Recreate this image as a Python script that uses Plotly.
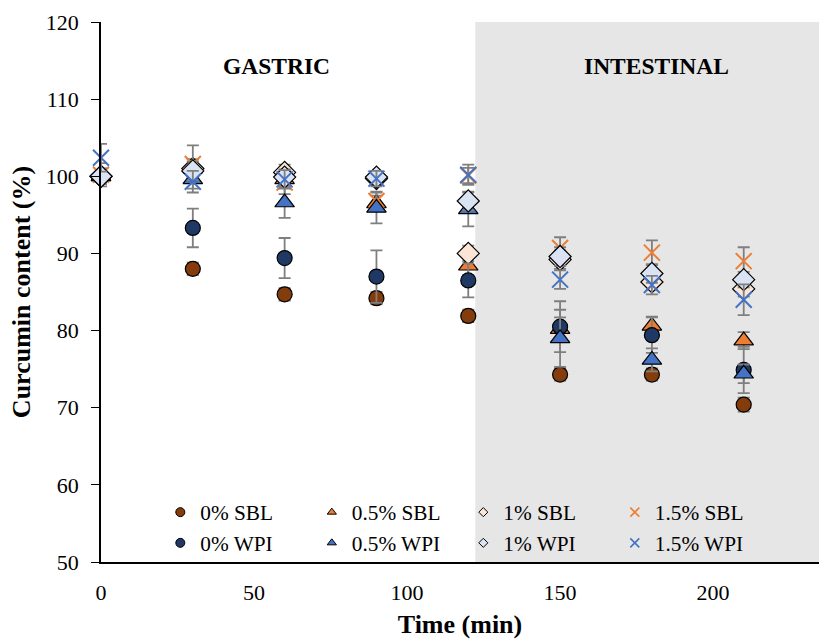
import plotly.graph_objects as go

# Sampling times (min)
time_min = [0, 30, 60, 90, 120, 150, 180, 210]

# Curcumin content (%) per formulation, with standard deviations
sbl_0 = [100.0, 88.0, 84.7, 84.2, 81.9, 74.3, 74.3, 70.4]
sbl_0_sd = [0.8, 0.8, 0.8, 0.8, 0.8, 0.8, 0.8, 0.9]
sbl_05 = [100.0, 101.0, 99.6, 96.5, 88.4, 80.2, 80.6, 78.7]
sbl_05_sd = [1.0, 1.2, 1.0, 1.0, 1.2, 1.5, 1.2, 1.1]
sbl_1 = [100.0, 101.0, 100.5, 99.7, 90.0, 89.2, 86.3, 85.4]
sbl_1_sd = [0.8, 1.2, 1.0, 0.8, 1.0, 1.2, 1.0, 1.0]
sbl_15 = [100.2, 101.6, 99.2, 96.8, 100.1, 90.7, 90.1, 89.0]
sbl_15_sd = [1.5, 2.4, 1.5, 1.2, 1.0, 1.4, 1.6, 1.8]
wpi_0 = [100.0, 93.3, 89.4, 87.0, 86.5, 80.5, 79.4, 74.9]
wpi_0_sd = [1.0, 2.5, 2.6, 3.4, 2.2, 3.3, 2.3, 3.0]
wpi_05 = [100.0, 99.6, 96.6, 95.9, 95.7, 79.0, 76.2, 74.4]
wpi_05_sd = [1.0, 1.2, 2.0, 2.0, 2.2, 3.7, 1.5, 1.2]
wpi_1 = [100.0, 100.7, 99.9, 99.9, 96.8, 89.6, 87.4, 86.6]
wpi_1_sd = [0.8, 1.2, 1.0, 0.8, 1.2, 1.2, 1.2, 1.0]
wpi_15 = [102.4, 99.3, 99.6, 99.7, 100.2, 86.6, 85.9, 84.0]
wpi_15_sd = [1.8, 1.4, 1.2, 1.0, 1.3, 1.2, 1.2, 2.0]

# (name, values, sd, symbol, fill colour, outline colour)
series = [
    ("0% SBL", sbl_0, sbl_0_sd, "circle", "#843C0C", "black"),
    ("0.5% SBL", sbl_05, sbl_05_sd, "triangle-up", "#ED7D31", "black"),
    ("1% SBL", sbl_1, sbl_1_sd, "diamond", "#FBE5D6", "black"),
    ("1.5% SBL", sbl_15, sbl_15_sd, "x-thin", "#ED7D31", "#ED7D31"),
    ("0% WPI", wpi_0, wpi_0_sd, "circle", "#1F3864", "black"),
    ("0.5% WPI", wpi_05, wpi_05_sd, "triangle-up", "#4472C4", "black"),
    ("1% WPI", wpi_1, wpi_1_sd, "diamond", "#DAE3F3", "black"),
    ("1.5% WPI", wpi_15, wpi_15_sd, "x-thin", "#4472C4", "#4472C4"),
]

# marker sizes in the plot and in the legend
PLOT_SIZE = {"circle": 15, "triangle-up": 17, "diamond": 17, "x-thin": 16}
LEG_SIZE = {"circle": 9, "triangle-up": 8, "diamond": 7, "x-thin": 9}

SERIF = "Liberation Serif"
fig = go.Figure()

for name, vals, sd, sym, fill, edge in series:
    is_x = sym == "x-thin"
    fig.add_trace(go.Scatter(
        x=time_min, y=vals, mode="markers", name=name,
        marker=dict(symbol=sym, size=PLOT_SIZE[sym], color=fill,
                    line=dict(color=edge, width=2 if is_x else 1.2)),
        showlegend=False, cliponaxis=False,
        error_y=dict(type="data", array=sd, visible=True,
                     color="#7F7F7F", thickness=1.8, width=6),
    ))
    # compact legend entry
    fig.add_trace(go.Scatter(
        x=[None], y=[None], mode="markers", name=name,
        marker=dict(symbol=sym, size=LEG_SIZE[sym], color=fill,
                    line=dict(color=edge, width=1.6 if is_x else 1)),
        showlegend=True,
    ))

# Intestinal phase background
fig.add_shape(type="rect", xref="x", yref="y", x0=122.3, x1=240, y0=50, y1=120,
              fillcolor="#E6E6E6", line=dict(width=0), layer="below")

fig.add_annotation(x=57.5, y=114.3, xref="x", yref="y", text="<b>GASTRIC</b>",
                   showarrow=False, font=dict(family=SERIF, size=23.5, color="black"))
fig.add_annotation(x=181.5, y=114.3, xref="x", yref="y", text="<b>INTESTINAL</b>",
                   showarrow=False, font=dict(family=SERIF, size=23.5, color="black"))

fig.update_layout(
    width=819, height=639,
    margin=dict(l=101, r=0, t=22, b=77),
    paper_bgcolor="white", plot_bgcolor="white",
    font=dict(family=SERIF, size=22, color="black"),
    showlegend=True,
    legend=dict(
        orientation="h", x=0.0826, y=0.13, xanchor="left", yanchor="top",
        bgcolor="rgba(0,0,0,0)", entrywidth=106.5, entrywidthmode="pixels",
        font=dict(family=SERIF, size=21.3, color="black"),
        itemsizing="trace", traceorder="normal", tracegroupgap=0,
        itemwidth=30,
    ),
    xaxis=dict(
        range=[0, 234.6], tickvals=[0, 50, 100, 150, 200],
        showline=True, linecolor="black", linewidth=1.5,
        showgrid=False, zeroline=False, ticks="",
        ticklabelstandoff=10,
        tickfont=dict(family=SERIF, size=22),
        title=dict(text="<b>Time (min)</b>", font=dict(family=SERIF, size=26), standoff=11),
    ),
    yaxis=dict(
        range=[50, 120], tickvals=[50, 60, 70, 80, 90, 100, 110, 120],
        showline=True, linecolor="black", linewidth=1.5,
        showgrid=False, zeroline=False, ticks="outside", ticklen=8,
        tickcolor="black", tickwidth=1,
        ticklabelstandoff=8,
        tickfont=dict(family=SERIF, size=22),
        title=dict(text="<b>Curcumin content (%)</b>", font=dict(family=SERIF, size=26), standoff=8),
    ),
)

fig.write_html("out.html")
